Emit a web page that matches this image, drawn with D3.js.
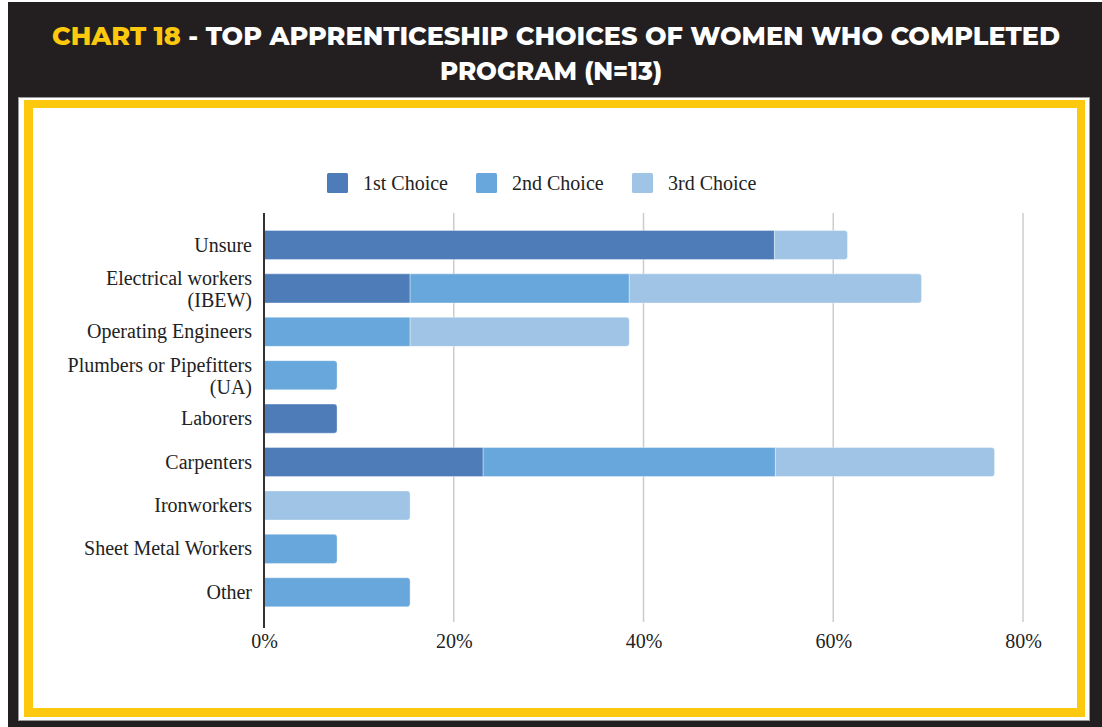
<!DOCTYPE html>
<html><head><meta charset="utf-8">
<script src="https://cdn.jsdelivr.net/npm/d3@7"></script>
<style>html,body{margin:0;padding:0;background:#fff;}svg{display:block;}</style>
</head><body>
<svg id="c" width="1102" height="727"></svg>
<script>
const categories = [["Unsure"],["Electrical workers","(IBEW)"],["Operating Engineers"],["Plumbers or Pipefitters","(UA)"],["Laborers"],["Carpenters"],["Ironworkers"],["Sheet Metal Workers"],["Other"]];
const seriesNames = ["1st Choice","2nd Choice","3rd Choice"];
const first  = [53.8, 15.4, 0,    0,   7.7, 23.1, 0,    0,   0];
const second = [0,    23.1, 15.4, 7.7, 0,   30.8, 0,    7.7, 15.4];
const third  = [7.7,  30.8, 23.1, 0,   0,   23.1, 15.4, 0,   0];
const tickValues = [0, 20, 40, 60, 80];
const colors = ["#4e7cb8", "#68a7db", "#9fc4e6"];

const serif = "'Liberation Serif', 'Times New Roman', serif";
const svg = d3.select("#c");
// frame
svg.append("rect").attr("x",0).attr("y",0).attr("width",1102).attr("height",727).attr("fill","#fff");
svg.append("rect").attr("x",8).attr("y",2).attr("width",1094).attr("height",725).attr("fill","#231f20");
svg.append("rect").attr("x",18.5).attr("y",97.5).attr("width",1071).attr("height",623).attr("fill","#fff").attr("stroke","#9a9a9a").attr("stroke-width",1);
svg.append("rect").attr("x",24).attr("y",100).attr("width",1061).attr("height",617).attr("fill","#fdc90f");
svg.append("rect").attr("x",33).attr("y",108).attr("width",1044).attr("height",600).attr("fill","#fff");

// title
const t1 = svg.append("text").attr("x",556).attr("y",45).attr("text-anchor","middle")
  .attr("font-family","Montserrat, 'Open Sans', Lato, sans-serif").attr("font-weight",800).attr("font-size",25)
  .attr("textLength",1008).attr("lengthAdjust","spacingAndGlyphs");
t1.append("tspan").attr("fill","#fdc90f").text("CHART 18");
t1.append("tspan").attr("fill","#fff").text(" - TOP APPRENTICESHIP CHOICES OF WOMEN WHO COMPLETED");
svg.append("text").attr("x",551).attr("y",80).attr("text-anchor","middle")
  .attr("font-family","Montserrat, 'Open Sans', Lato, sans-serif").attr("font-weight",800).attr("font-size",25)
  .attr("fill","#fff").attr("textLength",222).attr("lengthAdjust","spacingAndGlyphs").text("PROGRAM (N=13)");

// scales
const x = d3.scaleLinear().domain([0,80]).range([264,1023]);
const y = d3.scaleBand().domain(categories.map((d,i)=>i)).range([223.3,614]).paddingInner(0.33).paddingOuter(0.165);

// gridlines
svg.append("g").selectAll("line").data(tickValues.slice(1)).join("line")
  .attr("x1",d=>x(d)).attr("x2",d=>x(d)).attr("y1",213).attr("y2",622)
  .attr("stroke","#cccccc").attr("stroke-width",1.5);

// axis (tick labels)
const xAxis = d3.axisBottom(x).tickValues(tickValues).tickFormat(d=>d+"%").tickSize(0).tickPadding(0);
const ax = svg.append("g").attr("transform","translate(0,648)").call(xAxis);
ax.select(".domain").remove();
ax.selectAll("text").attr("font-family",serif).attr("font-size",20).attr("fill","#222").attr("dy","0").attr("y",0);

// stacks
const rows = categories.map((c,i)=>({i, v:[first[i],second[i],third[i]]}));
const g = svg.append("g");
rows.forEach(r=>{
  let acc = 0;
  const segs = [];
  r.v.forEach((val,k)=>{ if(val>0){ segs.push({k, x0:acc, x1:acc+val}); } acc+=val; });
  segs.forEach((s,j)=>{
    const last = j===segs.length-1;
    const X0 = x(s.x0), X1 = x(s.x1), Y0 = y(r.i), H = y.bandwidth(), rr = last?3:0;
    const p = d3.path();
    p.moveTo(X0,Y0); p.lineTo(X1-rr,Y0);
    if(rr) p.arcTo(X1,Y0,X1,Y0+rr,rr);
    p.lineTo(X1,Y0+H-rr);
    if(rr) p.arcTo(X1,Y0+H,X1-rr,Y0+H,rr);
    p.lineTo(X0,Y0+H); p.closePath();
    g.append("path").attr("d",p.toString()).attr("fill",colors[s.k]).attr("stroke","#ffffff").attr("stroke-opacity",0.35).attr("stroke-width",1);
  });
});

// y axis line
svg.append("line").attr("x1",264).attr("x2",264).attr("y1",213).attr("y2",628).attr("stroke","#333").attr("stroke-width",2);

// category labels
const lab = svg.append("g").attr("font-family",serif).attr("font-size",20).attr("fill","#222").attr("text-anchor","end");
categories.forEach((c,i)=>{
  const cy = y(i)+y.bandwidth()/2;
  if(c.length===1){
    lab.append("text").attr("x",252).attr("y",cy+6.5).text(c[0]);
  } else {
    lab.append("text").attr("x",252).attr("y",cy-3.5).text(c[0]);
    lab.append("text").attr("x",252).attr("y",cy+18.5).text(c[1]);
  }
});

// legend
const legX = [327, 476, 632];
const leg = svg.append("g");
seriesNames.forEach((n,k)=>{
  leg.append("rect").attr("x",legX[k]).attr("y",173).attr("width",21).attr("height",20).attr("rx",1.5).attr("fill",colors[k]);
  leg.append("text").attr("x",legX[k]+36).attr("y",190).attr("font-family",serif)
    .attr("font-size",20).attr("fill","#222").text(n);
});
</script>
</body></html>
